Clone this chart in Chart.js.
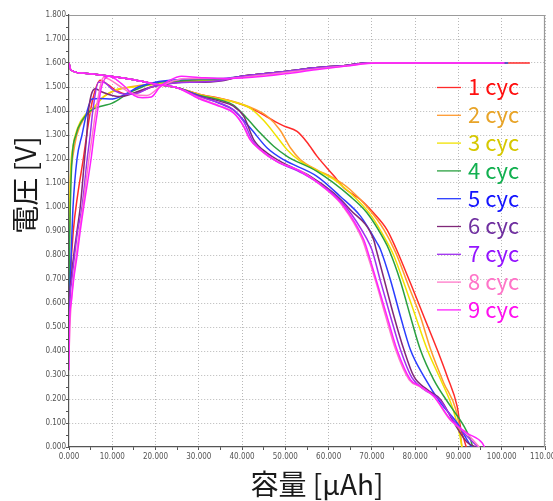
<!DOCTYPE html>
<html><head><meta charset="utf-8">
<script src="https://cdn.jsdelivr.net/npm/chart.js@4.4.0/dist/chart.umd.min.js"></script>
<style>html,body{margin:0;padding:0;background:#fff;}canvas{display:block;}</style>
</head><body>
<canvas id="c" width="553" height="501" style="width:553px;height:501px"></canvas>
<script>
// ---- labels ----
const cycleLabels = ['1 cyc','2 cyc','3 cyc','4 cyc','5 cyc','6 cyc','7 cyc','8 cyc','9 cyc'];
const xTitle = '容量 [μAh]';
const yTitle = '電圧 [V]';
const lineColors = ['#ff2a2a','#ff9a30','#f0e200','#2aa040','#2a3cff','#802878','#a030f0','#ff78c8','#ff20ff'];
const textColors = ['#ff1010','#e8a428','#d6c800','#12b050','#1414ff','#7030a0','#9414ff','#ff74c8','#ff10f0'];

// ---- charge curves (capacity µAh, voltage V) ----
const chg1Cap = [0,0.3,1,2,3.3,4.5,5.5,7.2,9,11,13.6,16,20,25,30,35,40,45,50,57,64,69,106.5];
const chg1V   = [0.50,0.70,0.90,1.05,1.20,1.35,1.45,1.528,1.51,1.485,1.470,1.478,1.505,1.520,1.530,1.530,1.545,1.555,1.565,1.580,1.590,1.600,1.600];
const chg2Cap = [0,0.1,0.3,0.8,1.8,3.5,5.3,7.4,10,14,18,25,30,35,40,45,50,57,64,69,101];
const chg2V   = [0.60,0.85,1.10,1.20,1.30,1.37,1.40,1.45,1.48,1.50,1.51,1.52,1.525,1.53,1.545,1.555,1.565,1.580,1.590,1.600,1.600];
const chg3Cap = [0,0.1,0.4,0.9,2,4,6,8,11,15,20,25,30,35,40,45,50,57,64,69,101.5];
const chg3V   = [0.62,0.90,1.15,1.25,1.33,1.39,1.42,1.46,1.49,1.50,1.51,1.52,1.525,1.53,1.545,1.555,1.565,1.580,1.590,1.600,1.600];
const chg4Cap = [0,0.1,0.3,0.7,1.6,3,4.9,7.4,10,13.8,16.9,19,25,30,35,40,45,50,57,64,69,100.8];
const chg4V   = [0.55,0.80,1.00,1.20,1.30,1.36,1.40,1.42,1.433,1.475,1.50,1.515,1.525,1.53,1.53,1.545,1.555,1.565,1.580,1.590,1.600,1.600];
const chg5Cap = [0,0.3,0.5,0.7,0.93,1.85,3.0,4.2,5.3,7,10,13,16,20,25,30,35,40,45,50,57,64,69,101.5];
const chg5V   = [0.55,0.70,0.80,0.90,1.00,1.20,1.30,1.40,1.45,1.452,1.45,1.47,1.50,1.52,1.53,1.535,1.535,1.545,1.555,1.565,1.580,1.590,1.600,1.600];
const chg6Cap = [0,0.1,0.5,1.1,1.85,2.6,3.6,4.1,4.5,6.1,7.5,10,12,15,18,22,26,30,35,40,45,50,57,64,69,100.8];
const chg6V   = [0.50,0.60,0.70,0.80,0.90,1.00,1.20,1.30,1.40,1.493,1.48,1.465,1.46,1.475,1.495,1.51,1.52,1.52,1.525,1.545,1.555,1.565,1.580,1.590,1.600,1.600];
const chg7Cap = [0,0.2,0.7,1.3,2,3,4.2,4.9,5.5,6.8,8,10,13,16,19,23,28,34,40,45,50,57,64,69,100.8];
const chg7V   = [0.45,0.60,0.70,0.80,0.90,1.00,1.20,1.30,1.40,1.52,1.52,1.49,1.47,1.475,1.50,1.515,1.52,1.525,1.545,1.555,1.565,1.580,1.590,1.600,1.600];
const chg8Cap = [0,0.2,0.5,1,1.7,2.4,3.2,4.6,5.4,6.2,8,9.5,12,15,18,21,24,28,34,40,45,50,57,64,70,100.6];
const chg8V   = [0.38,0.50,0.60,0.70,0.80,0.90,1.00,1.20,1.30,1.40,1.54,1.53,1.50,1.47,1.465,1.50,1.525,1.535,1.535,1.54,1.55,1.56,1.575,1.588,1.600,1.600];
const chg9Cap = [0,0.1,0.5,1.1,1.9,2.6,3.4,5.1,5.8,6.6,7.5,9.2,11,13,15,17,19,21,23,26,30,35,40,45,50,57,64,71,100.5];
const chg9V   = [0.32,0.50,0.60,0.70,0.80,0.90,1.00,1.20,1.30,1.40,1.50,1.545,1.53,1.50,1.465,1.455,1.458,1.50,1.525,1.545,1.54,1.535,1.538,1.545,1.555,1.572,1.587,1.600,1.600];

// ---- discharge curves (capacity µAh, voltage V) ----
const dis1Cap = [0,0.4,3,10,15,20,25,30,35,38,42,45.8,49.6,52.7,55,57.3,61.2,63.5,67.4,70.4,73.5,75.5,78.9,82,85.1,87.4,89.7,90.5,91.3,91.8];
const dis1V   = [1.600,1.572,1.558,1.544,1.530,1.512,1.497,1.470,1.452,1.438,1.412,1.375,1.338,1.315,1.270,1.212,1.130,1.080,1.030,0.975,0.905,0.830,0.683,0.544,0.405,0.294,0.169,0.080,0.030,0.000];
const dis2Cap = [0,0.4,3,10,15,20,25,30,35,38,42,45.8,48.8,51.2,53.5,57.3,61.2,65,68.9,72.8,75.5,78.5,81.2,83.6,86.6,89.4,90.5,90.8];
const dis2V   = [1.600,1.572,1.558,1.544,1.530,1.512,1.497,1.470,1.452,1.440,1.415,1.378,1.320,1.246,1.197,1.155,1.120,1.072,1.000,0.905,0.810,0.670,0.544,0.405,0.267,0.155,0.050,0.000];
const dis3Cap = [0,0.4,3,10,15,20,25,30,35,38,42,45,48,50.4,53.5,57.3,61.2,66.6,70,73,75,77.4,80.1,82.8,85.9,88.7,90.3,90.8];
const dis3V   = [1.600,1.572,1.558,1.544,1.530,1.512,1.497,1.468,1.450,1.438,1.410,1.360,1.294,1.239,1.190,1.152,1.115,1.030,0.960,0.870,0.800,0.683,0.544,0.405,0.280,0.160,0.050,0.000];
const dis4Cap = [0,0.4,3,10,15,20,25,30,35,38,41.1,44.2,47.3,50.4,57.3,65,68.9,72.8,74,76.6,78.9,81.2,84.3,88.2,91.3,92.8,93.3];
const dis4V   = [1.600,1.572,1.558,1.544,1.530,1.512,1.497,1.466,1.445,1.425,1.370,1.308,1.253,1.211,1.148,1.044,0.975,0.864,0.820,0.690,0.544,0.405,0.280,0.169,0.086,0.030,0.000];
const dis5Cap = [0,0.4,3,10,15,20,25,30,35,38,41.9,45.8,49.6,57.3,62.7,67.4,71.2,72,74.3,76.6,78.9,82,85.9,89.7,92,93];
const dis5V   = [1.600,1.572,1.558,1.544,1.530,1.512,1.497,1.464,1.430,1.405,1.329,1.246,1.197,1.128,1.044,0.961,0.850,0.822,0.695,0.544,0.405,0.294,0.183,0.100,0.030,0.000];
const dis6Cap = [0,0.4,3,10,15,20,25,30,35,38,40.4,42.7,45.8,49.6,55.8,61.2,65,70.4,71,72.8,75.1,77.4,79.7,82.8,85.9,89,92,94];
const dis6V   = [1.600,1.572,1.558,1.544,1.530,1.512,1.497,1.462,1.440,1.420,1.378,1.280,1.225,1.183,1.128,1.058,0.989,0.864,0.822,0.700,0.544,0.405,0.294,0.239,0.197,0.100,0.020,0.000];
const dis7Cap = [0,0.4,3,10,15,20,25,30,35,38,40.4,42.3,44.5,48,54,60,64,68.8,70,72,74.3,76.6,79.2,82,85.5,89.3,92.5,94.5];
const dis7V   = [1.600,1.572,1.558,1.544,1.530,1.512,1.497,1.460,1.432,1.405,1.355,1.280,1.235,1.190,1.140,1.070,1.000,0.868,0.822,0.690,0.544,0.405,0.290,0.240,0.200,0.100,0.035,0.000];
const dis8Cap = [0,0.4,3,10,15,20,25,30,35,38,40.2,41.7,44,48,53.5,59.5,63.3,67.8,68.6,71,73.2,75.5,78.6,81.2,84.3,88,92,94.8];
const dis8V   = [1.600,1.572,1.558,1.544,1.530,1.512,1.497,1.455,1.420,1.395,1.340,1.285,1.240,1.190,1.150,1.072,1.003,0.864,0.822,0.683,0.544,0.405,0.280,0.250,0.210,0.115,0.055,0.000];
const dis9Cap = [0,0.4,3,10,15,20,25,30,35,38,40.4,41.9,44.2,48,53.5,59.6,63.5,68.1,68.9,71.2,73.5,75.8,78.9,81.2,84.3,88.2,92,95.5,96];
const dis9V   = [1.600,1.572,1.558,1.544,1.530,1.512,1.497,1.452,1.418,1.392,1.336,1.280,1.239,1.190,1.148,1.072,1.003,0.864,0.822,0.683,0.544,0.405,0.280,0.253,0.211,0.114,0.058,0.017,0.000];

const chgCaps = [chg1Cap,chg2Cap,chg3Cap,chg4Cap,chg5Cap,chg6Cap,chg7Cap,chg8Cap,chg9Cap];
const chgVs   = [chg1V,chg2V,chg3V,chg4V,chg5V,chg6V,chg7V,chg8V,chg9V];
const disCaps = [dis1Cap,dis2Cap,dis3Cap,dis4Cap,dis5Cap,dis6Cap,dis7Cap,dis8Cap,dis9Cap];
const disVs   = [dis1V,dis2V,dis3V,dis4V,dis5V,dis6V,dis7V,dis8V,dis9V];

function pts(c, v) { return c.map((x, i) => ({x: x, y: v[i]})); }

const datasets = [];
for (let i = 0; i < cycleLabels.length; i++) {
  const common = {borderColor: lineColors[i], backgroundColor: lineColors[i], borderWidth: 1.5,
    pointRadius: 0, showLine: true, fill: false, cubicInterpolationMode: 'monotone', order: 9 - i};
  datasets.push(Object.assign({label: cycleLabels[i], data: pts(chgCaps[i], chgVs[i])}, common));
  datasets.push(Object.assign({label: cycleLabels[i] + ' d', data: pts(disCaps[i], disVs[i])}, common));
}

const tickFont = {family: "'Liberation Sans Narrow','DejaVu Sans Condensed',sans-serif", size: 8};

const decorPlugin = {
  id: 'decor',
  afterDraw(chart) {
    const ctx = chart.ctx, a = chart.chartArea;
    ctx.save();
    // frame top/right
    ctx.strokeStyle = '#9a9a9a'; ctx.lineWidth = 1.2;
    ctx.beginPath();
    ctx.moveTo(a.left, a.top + 0.5); ctx.lineTo(a.right - 0.5, a.top + 0.5); ctx.lineTo(a.right - 0.5, a.bottom);
    ctx.stroke();
    // legend
    ctx.font = "22px 'Noto Sans CJK JP','Noto Sans',sans-serif";
    ctx.textBaseline = 'middle'; ctx.textAlign = 'left';
    for (let i = 0; i < cycleLabels.length; i++) {
      const y = 87 + i * 27.8;
      ctx.strokeStyle = lineColors[i]; ctx.lineWidth = 1.3;
      ctx.beginPath(); ctx.moveTo(437, y + 0.5); ctx.lineTo(461, y + 0.5); ctx.stroke();
      ctx.fillStyle = textColors[i];
      ctx.fillText(cycleLabels[i], 468, y);
    }
    // axis titles
    ctx.fillStyle = '#1a1a1a';
    ctx.font = "28px 'Noto Sans CJK JP','Noto Sans',sans-serif";
    ctx.textAlign = 'center';
    ctx.fillText(xTitle, 317, 484);
    ctx.translate(25, 185); ctx.rotate(-Math.PI / 2);
    ctx.fillText(yTitle, 0, 0);
    ctx.restore();
  }
};

new Chart(document.getElementById('c'), {
  type: 'scatter',
  data: {datasets: datasets},
  plugins: [decorPlugin],
  options: {
    responsive: false, animation: false, devicePixelRatio: 1,
    layout: {padding: {left: 0, right: 8, top: 15, bottom: 0}},
    plugins: {legend: {display: false}, tooltip: {enabled: false}, title: {display: false}},
    scales: {
      x: {
        type: 'linear', min: 0, max: 110,
        ticks: {stepSize: 5, autoSkip: false, maxRotation: 0, minRotation: 0, padding: 2, color: '#555', font: tickFont,
          callback: (v) => (Math.round(v) % 10 === 0 ? v.toFixed(3) : '')},
        grid: {color: (c) => (c.tick && Math.round(c.tick.value) % 10 === 0 && c.tick.value > 0 ? '#b8b8b8' : 'rgba(0,0,0,0)'),
          tickColor: '#555', tickLength: 3, lineWidth: 1},
        border: {color: '#555', width: 1.2, dash: [1, 2]},
        afterFit(s) { s.height = 54; s.paddingLeft = 0; s.paddingRight = 0; }
      },
      y: {
        type: 'linear', min: 0, max: 1.8,
        ticks: {stepSize: 0.05, autoSkip: false, padding: 0, color: '#555', font: tickFont,
          callback: (v) => (Math.round(v * 20) % 2 === 0 ? v.toFixed(3) : '')},
        grid: {color: (c) => (c.tick && Math.round(c.tick.value * 20) % 2 === 0 && c.tick.value > 0 ? '#b8b8b8' : 'rgba(0,0,0,0)'),
          tickColor: '#555', tickLength: 3, lineWidth: 1},
        border: {color: '#555', width: 1.2, dash: [1, 2]},
        afterFit(s) { s.width = 69; s.paddingTop = 0; s.paddingBottom = 0; }
      }
    }
  }
});
</script>
</body></html>
